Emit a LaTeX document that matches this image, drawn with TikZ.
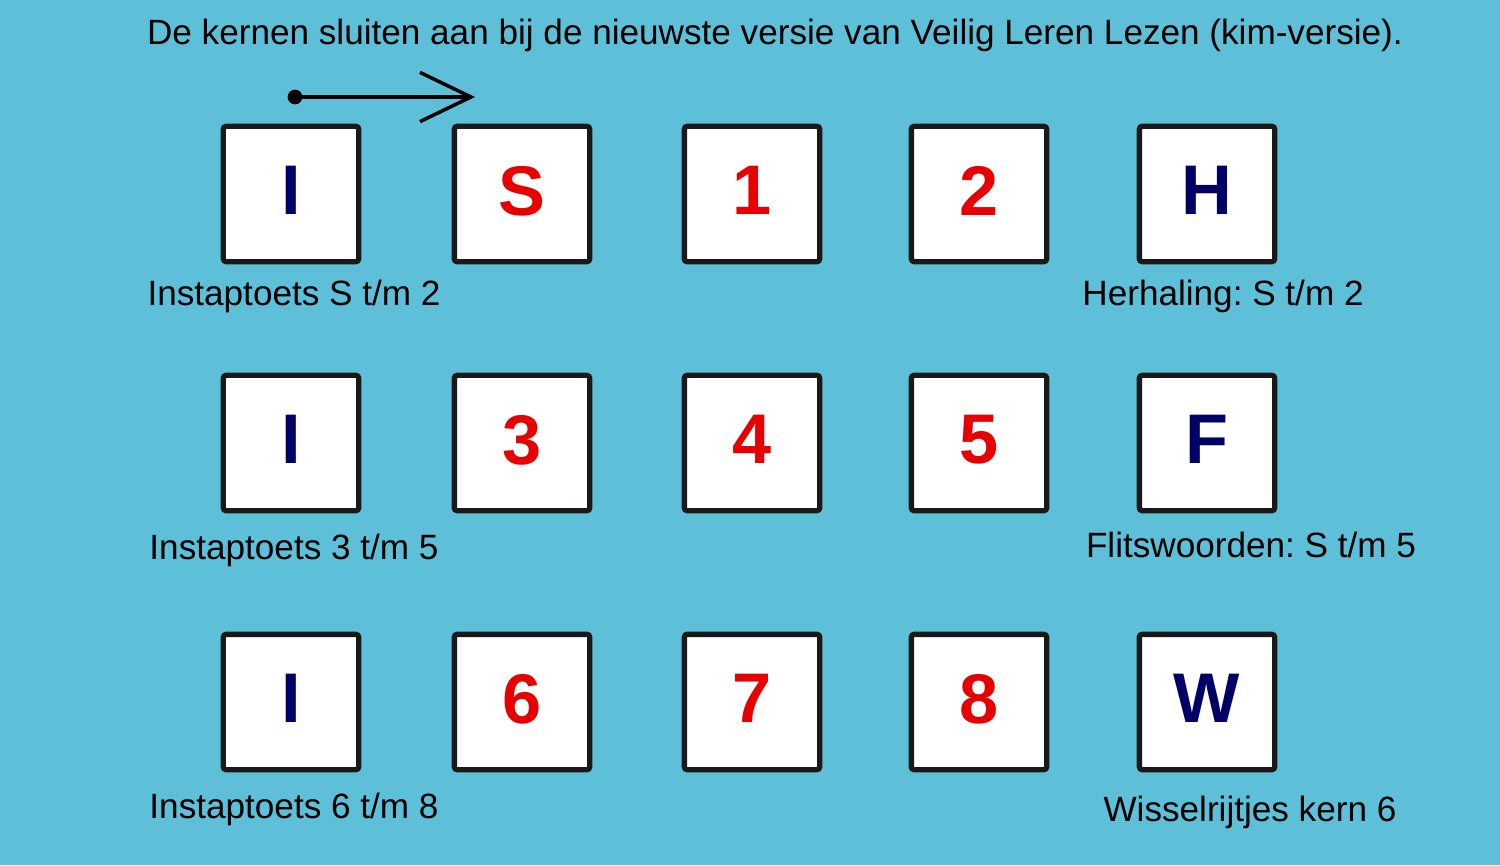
\documentclass[tikz,border=0pt]{standalone}
\usepackage{fontspec}
\setmainfont{Liberation Sans}
\usetikzlibrary{arrows.meta}
\frenchspacing
\definecolor{sky}{RGB}{93,192,216}
\definecolor{navy}{RGB}{0,0,102}
\definecolor{kernred}{RGB}{230,0,0}
\tikzset{%
    kern/.style={draw=black!90,line width=3pt,fill=white,rounded corners=1.5pt,
        minimum width=77pt,minimum height=77pt,inner sep=0pt,text depth=4pt,
        font=\fontsize{40}{40}\selectfont\bfseries},
    label/.style={font=\fontsize{20}{24}\selectfont,inner sep=0pt}
}

\begin{document}
\begin{tikzpicture}[x=0.02cm,y=-0.02cm]
    \fill[sky] (0,0) rectangle (1500,865);
    \useasboundingbox (0,0) rectangle (1500,865);
    \node[label] (title) at (775,35) {De kernen sluiten aan bij de nieuwste versie van Veilig Leren Lezen (kim-versie).};
    % arrow above the first row
    \coordinate (start) at (295,97);
    \coordinate (end) at (475,97);
    \draw[line width=2pt,-{Straight Barb[length=29pt,width=28pt,line width=2pt]}] (start)--(end);
    \fill (start) circle (4.2pt);
    % first row
    \node[kern,text=navy] (i1) at (291,194) {I};
    \node[kern,text=kernred] (s) at (522,194) {S};
    \node[kern,text=kernred] (k1) at (752,194) {1};
    \node[kern,text=kernred] (k2) at (979,194) {2};
    \node[kern,text=navy] (h) at (1207,194) {H};
    % second row
    \node[kern,text=navy] (i2) at (291,443) {I};
    \node[kern,text=kernred] (k3) at (522,443) {3};
    \node[kern,text=kernred] (k4) at (752,443) {4};
    \node[kern,text=kernred] (k5) at (979,443) {5};
    \node[kern,text=navy] (f) at (1207,443) {F};
    % third row
    \node[kern,text=navy] (i3) at (291,702) {I};
    \node[kern,text=kernred] (k6) at (522,702) {6};
    \node[kern,text=kernred] (k7) at (752,702) {7};
    \node[kern,text=kernred] (k8) at (979,702) {8};
    \node[kern,text=navy] (w) at (1207,702) {W};
    % labels
    \node[label] (li1) at (294,296) {Instaptoets S t/m 2};
    \node[label] (lh) at (1223,296) {Herhaling: S t/m 2};
    \node[label] (li2) at (294,550) {Instaptoets 3 t/m 5};
    \node[label] (lf) at (1251,545) {Flitswoorden: S t/m 5};
    \node[label] (li3) at (294,809) {Instaptoets 6 t/m 8};
    \node[label] (lw) at (1250,812) {Wisselrijtjes kern 6};
\end{tikzpicture}
\end{document}
